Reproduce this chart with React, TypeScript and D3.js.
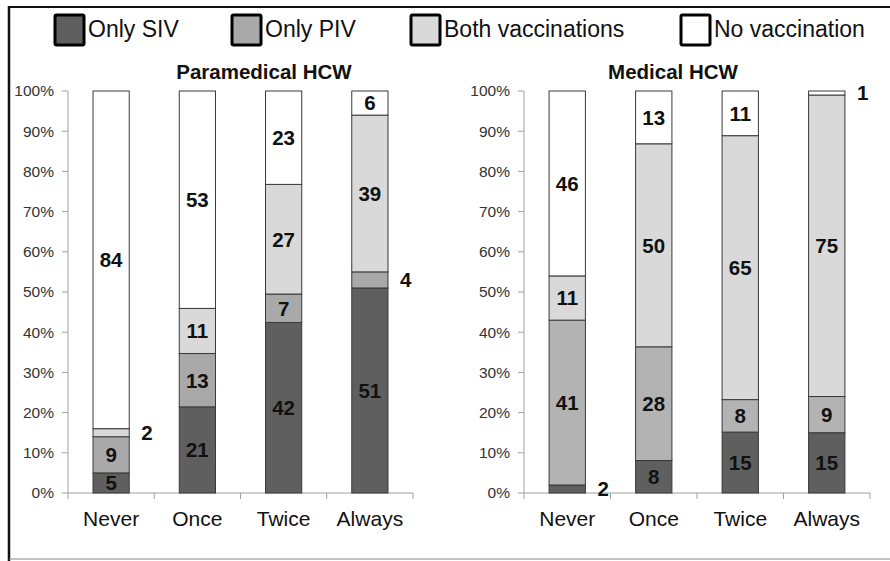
import * as d3 from "d3";

const PANELS = ["Paramedical HCW", "Medical HCW"];
const CATEGORIES = ["Never", "Once", "Twice", "Always"];
const SERIES = ["Only SIV", "Only PIV", "Both vaccinations", "No vaccination"];

// percentages per category
const paraSIV = [5, 21, 42, 51];
const paraPIV = [9, 13, 7, 4];
const paraBoth = [2, 11, 27, 39];
const paraNone = [84, 53, 23, 6];

const medSIV = [2, 8, 15, 15];
const medPIV = [41, 28, 8, 9];
const medBoth = [11, 50, 65, 75];
const medNone = [46, 13, 11, 1];

const Y_TICKS = [0, 0.1, 0.2, 0.3, 0.4, 0.5, 0.6, 0.7, 0.8, 0.9, 1];

// labels that sit beside the bar instead of inside it
const OUTSIDE = [
  ["Paramedical HCW", "Never", "Both vaccinations"],
  ["Paramedical HCW", "Always", "Only PIV"],
  ["Medical HCW", "Never", "Only SIV"],
  ["Medical HCW", "Always", "No vaccination"],
];

const COLORS = ["#5f5f5f", "#a9a9a9", "#d9d9d9", "#ffffff"];
const FONT = "'Liberation Sans', Arial, sans-serif";

const panelData = [
  [paraSIV, paraPIV, paraBoth, paraNone],
  [medSIV, medPIV, medBoth, medNone],
];

// layout of the two plot areas
const LAYOUT = [
  { x0: 68, x1: 413, titleX: 264, piv: "#a9a9a9" },
  { x0: 524, x1: 870, titleX: 673, piv: "#b3b3b3" },
];
const Y_TOP = 91;
const Y_BOT = 493;

const legendX = [55, 232, 411, 681];

function Panel({ idx }: { idx: number }) {
  const name = PANELS[idx];
  const { x0, x1, titleX, piv } = LAYOUT[idx];
  const rows = CATEGORIES.map((c, i) => {
    const r: any = { cat: c };
    SERIES.forEach((s, j) => (r[s] = panelData[idx][j][i]));
    return r;
  });
  const stacked = d3.stack<any>().keys(SERIES).offset(d3.stackOffsetExpand)(rows);

  const x = d3.scaleBand().domain(CATEGORIES).range([x0, x1]).paddingInner(0.58).paddingOuter(0.29);
  const y = d3.scaleLinear().domain([0, 1]).range([Y_BOT, Y_TOP]);
  const bw = x.bandwidth();
  const step = x.step();
  const fmt = d3.format(".0%");
  const fills = [COLORS[0], piv, COLORS[2], COLORS[3]];

  const isOutside = (cat: string, s: string) =>
    OUTSIDE.some((o) => o[0] === name && o[1] === cat && o[2] === s);

  return (
    <g>
      <text x={titleX} y={79} textAnchor="middle" fontSize={20.5} fontWeight="bold" fill="#111">
        {name}
      </text>
      {/* y axis */}
      <line x1={x0} x2={x0} y1={Y_TOP} y2={Y_BOT} stroke="#a0a0a0" />
      {Y_TICKS.map((t) => (
        <g key={t}>
          <line x1={x0 - 6} x2={x0} y1={y(t)} y2={y(t)} stroke="#a0a0a0" />
          <text x={x0 - 14} y={y(t)} dy="0.35em" textAnchor="end" fontSize={15.5} fill="#333">
            {fmt(t)}
          </text>
        </g>
      ))}
      {/* x axis */}
      <line x1={x0} x2={x1} y1={Y_BOT} y2={Y_BOT} stroke="#a0a0a0" />
      {CATEGORIES.map((c, i) => (
        <line key={"t" + c} x1={x0 + i * step} x2={x0 + i * step} y1={Y_BOT} y2={Y_BOT + 6} stroke="#a0a0a0" />
      ))}
      <line x1={x1} x2={x1} y1={Y_BOT} y2={Y_BOT + 6} stroke="#a0a0a0" />
      {CATEGORIES.map((c) => (
        <text key={"l" + c} x={(x(c) as number) + bw / 2} y={526} textAnchor="middle" fontSize={21} fill="#111">
          {c}
        </text>
      ))}
      {/* bars */}
      {stacked.map((layer, j) => (
        <g key={layer.key}>
          {layer.map((d: any) => (
            <rect
              key={d.data.cat}
              x={x(d.data.cat)}
              y={y(d[1])}
              width={bw}
              height={y(d[0]) - y(d[1])}
              fill={fills[j]}
              stroke="#3a3a3a"
              strokeWidth={1}
            />
          ))}
        </g>
      ))}
      {/* value labels */}
      {stacked.map((layer, j) =>
        layer.map((d: any, i: number) => {
          const out = isOutside(d.data.cat, layer.key);
          const cx = (x(d.data.cat) as number) + (out ? bw + 12 : bw / 2);
          const cy = y((d[0] + d[1]) / 2);
          return (
            <text
              key={layer.key + d.data.cat}
              x={cx}
              y={cy}
              dy="0.36em"
              textAnchor={out ? "start" : "middle"}
              fontSize={20.5}
              fontWeight="bold"
              fill="#111"
            >
              {panelData[idx][j][i]}
            </text>
          );
        })
      )}
    </g>
  );
}

export default function App() {
  return (
    <div style={{ position: "absolute", left: 0, top: 0 }}>
      <svg width={890} height={561} style={{ display: "block", fontFamily: FONT }}>
        <rect x={0} y={0} width={890} height={561} fill="#fff" />
        {/* frame */}
        <line x1={8} x2={890} y1={7} y2={7} stroke="#111" strokeWidth={2} />
        <line x1={9} x2={9} y1={6} y2={561} stroke="#111" strokeWidth={2.5} />
        <line x1={9} x2={890} y1={559} y2={559} stroke="#888" strokeWidth={1} />
        {/* legend */}
        {SERIES.map((s, j) => (
          <g key={s}>
            <rect x={legendX[j]} y={15} width={29} height={30} fill={COLORS[j]} stroke="#000" strokeWidth={3} rx={1.5} />
            <text x={legendX[j] + 33} y={37} fontSize={23} fill="#111">
              {s}
            </text>
          </g>
        ))}
        <Panel idx={0} />
        <Panel idx={1} />
      </svg>
    </div>
  );
}
